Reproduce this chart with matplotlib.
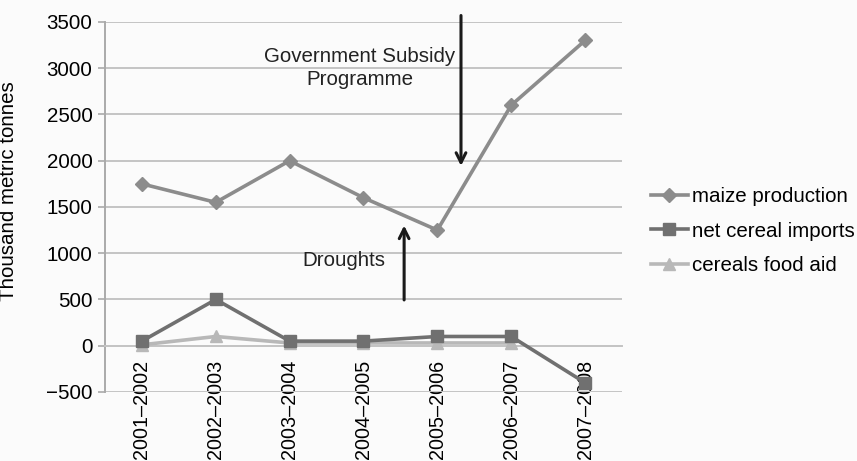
import numpy as np
import matplotlib
matplotlib.use('Agg')
import matplotlib.pyplot as plt

plt.rcParams['font.family'] = ['Liberation Sans', 'DejaVu Sans']

seasons = ['2001–2002', '2002–2003', '2003–2004', '2004–2005',
           '2005–2006', '2006–2007', '2007–2008']
maize_production = [1750, 1550, 2000, 1600, 1250, 2600, 3300]
net_cereal_imports = [50, 500, 50, 50, 100, 100, -400]
cereals_food_aid = [10, 100, 30, 30, 30, 30, np.nan]

fs = 14.8

fig = plt.figure(figsize=(8.57, 4.61), dpi=100)
fig.patch.set_facecolor('#fbfbfb')
ax = fig.add_axes([0.1225, 0.1497, 0.6033, 0.8026])
ax.set_facecolor('none')

x = np.arange(len(seasons))
ax.plot(x, cereals_food_aid, color='#b8b8b8', lw=2.6, marker='^', ms=9,
        label='cereals food aid', zorder=3)
ax.plot(x, net_cereal_imports, color='#707070', lw=2.6, marker='s', ms=9,
        label='net cereal imports', zorder=4)
ax.plot(x, maize_production, color='#8c8c8c', lw=2.6, marker='D', ms=7,
        label='maize production', zorder=5)

# category axis crosses at zero, labels hang below it
ax.spines['bottom'].set_position(('data', 0))
ax.spines['bottom'].set_color('#c4c4c4')
ax.spines['bottom'].set_linewidth(1.4)
for side in ['top', 'right']:
    ax.spines[side].set_visible(False)
ax.spines['left'].set_color('#aaaaaa')
ax.spines['left'].set_linewidth(1.4)

ax.set_xlim(-0.5, len(seasons) - 0.5)
ax.set_ylim(-500, 3500)
ax.set_yticks(np.arange(-500, 3501, 500))
ax.set_xticks(x)
ax.set_xticklabels(seasons, rotation=90, va='top', ha='center')
ax.tick_params(axis='x', length=0, pad=10, labelsize=14.2)
ax.tick_params(axis='y', length=5, width=1.2, color='#aaaaaa', pad=4,
               labelsize=fs)
ax.grid(axis='y', color='#c4c4c4', lw=1.4)
ax.set_axisbelow(True)

ax.set_ylabel('Thousand metric tonnes', fontsize=fs)
ax.yaxis.set_label_coords(-0.168, 0.543)

# annotations
ax.annotate('', xy=(4.32, 1914), xytext=(4.32, 3600),
            arrowprops=dict(arrowstyle='->,head_length=0.7,head_width=0.35',
                            color='#1a1a1a', lw=2.2), annotation_clip=False)
ax.text(2.95, 3005, 'Government Subsidy\nProgramme', ha='center', va='center',
        fontsize=fs, color='#222222', linespacing=1.3)
ax.annotate('', xy=(3.55, 1330), xytext=(3.55, 465),
            arrowprops=dict(arrowstyle='->,head_length=0.7,head_width=0.35',
                            color='#1a1a1a', lw=2.2))
ax.text(2.74, 920, 'Droughts', ha='center', va='center', fontsize=fs,
        color='#222222')

handles, labels = ax.get_legend_handles_labels()
leg = ax.legend(handles[::-1], labels[::-1], loc='center left',
                bbox_to_anchor=(1.04, 0.435), frameon=False, fontsize=fs,
                handlelength=1.8, handletextpad=0.2, labelspacing=0.75,
                borderaxespad=0)

fig.savefig('out.png', dpi=100, facecolor=fig.get_facecolor())
